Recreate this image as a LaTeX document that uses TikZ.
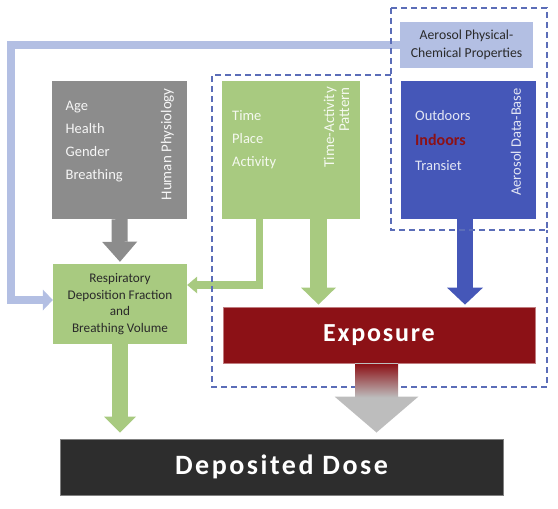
\documentclass[tikz,border=0pt]{standalone}
\usepackage{fontspec}
\setmainfont{Carlito}
\usepackage{tikz}
\usetikzlibrary{arrows.meta, calc}
\definecolor{physgray}{HTML}{8C8C8C}
\definecolor{leafgreen}{HTML}{A8CA80}
\definecolor{dbblue}{HTML}{4557B8}
\definecolor{propblue}{HTML}{B3BFE3}
\definecolor{expored}{HTML}{8C1116}
\definecolor{dosegray}{HTML}{2D2D2D}
\definecolor{dashblue}{HTML}{5B6DB8}
\definecolor{headgray}{HTML}{BDBDBD}
\definecolor{darktext}{HTML}{2A2A2A}
\tikzstyle{box} = [rectangle, inner sep=0pt, align=center]
\tikzstyle{listtext} = [anchor=west, align=left, inner sep=0pt, font=\fontsize{14.5}{23}\selectfont]
\tikzstyle{sidetitle} = [rotate=90, anchor=east, align=right, inner sep=0pt, font=\fontsize{15}{15}\selectfont]
\tikzstyle{zone} = [draw=dashblue, line width=1.2pt, dash pattern=on 6pt off 4pt]
\tikzstyle{fat} = [line join=miter]

\begin{document}
\begin{tikzpicture}[x=1pt, y=-1pt]
      \useasboundingbox (0,0) rectangle (558,509);

      % Boxes
      \node[box, fill=physgray, minimum width=135pt, minimum height=138pt] (phys) at (119.5,150) {};
      \node[box, fill=leafgreen, minimum width=138pt, minimum height=138pt] (tap) at (291,150) {};
      \node[box, fill=dbblue, minimum width=135pt, minimum height=138pt] (adb) at (468.5,150) {};
      \node[box, fill=propblue, minimum width=133pt, minimum height=46pt, text=darktext,
            font=\fontsize{13.7}{18}\selectfont] (aps) at (466.5,45) {Aerosol Physical-\\Chemical Properties};
      \node[box, fill=leafgreen, minimum width=134pt, minimum height=80pt, text=darktext,
            font=\fontsize{13.2}{16.7}\selectfont] (resp) at (120,304) {Respiratory\\Deposition Fraction\\and\\Breathing Volume};
      \node[box, fill=expored, draw=expored!55!white, line width=0.8pt, minimum width=312pt, minimum height=56pt,
            text=white, font=\fontsize{26}{30}\selectfont\bfseries\addfontfeature{LetterSpace=7}] (expo) at (379,335) {Exposure};
      \node[box, fill=dosegray, draw=gray, line width=1pt, minimum width=443pt, minimum height=56pt,
            text=white, font=\fontsize{28}{32}\selectfont\bfseries\addfontfeature{LetterSpace=9}] (dose) at (281.5,467) {Deposited Dose};

      % Box contents
      \node[listtext, text=white!92!physgray] (physlist) at (65.5,142) {Age\\Health\\Gender\\Breathing};
      \node[sidetitle, text=white!92!physgray] (physname) at (167.5,88) {Human Physiology};
      \node[listtext, text=white!88!leafgreen] (taplist) at (232,139.5) {Time\\Place\\Activity};
      \node[sidetitle, text=white!88!leafgreen] (tapname) at (336.5,87) {Time-Activity\\Pattern};
      \node[listtext, text=white!85!dbblue, font=\fontsize{14.5}{25}\selectfont] (adblist) at (415,141)
            {Outdoors\\{\bfseries\color{expored}\fontsize{16}{25}\selectfont Indoors}\\Transiet};
      \node[sidetitle, text=white!85!dbblue, font=\fontsize{14.5}{15}\selectfont] (adbname) at (516,88) {Aerosol Data-Base};

      % Arrows
      \coordinate (tapout) at ([xshift=27.5pt]tap.south);
      \coordinate (tapleft) at ([xshift=-31.5pt]tap.south);
      \coordinate (adbout) at ([xshift=-3.5pt]adb.south);
      \coordinate (expoout) at ([xshift=-2.5pt]expo.south);
      \coordinate (loop) at (11,45);

      \draw[fat, physgray, line width=16pt, -{Triangle[width=35pt,length=20pt,line width'=0pt]}, shorten >=2pt]
            (phys.south) -- (resp.north);
      \draw[fat, leafgreen, line width=16pt, -{Triangle[width=32pt,length=16pt,line width'=0pt]}, shorten >=6pt]
            (resp.south) -- (resp.south |- dose.north);
      \draw[fat, leafgreen, line width=17pt, -{Triangle[width=35pt,length=17pt,line width'=0pt]}, shorten >=2pt]
            (tapout) -- (tapout |- expo.north);
      \draw[fat, dbblue, line width=16pt, -{Triangle[width=36pt,length=17pt,line width'=0pt]}, shorten >=2pt]
            (adbout) -- (adbout |- expo.north);
      \draw[fat, leafgreen, line width=7.5pt, -{Triangle[width=17pt,length=10pt,line width'=0pt]}]
            (tapleft) |- ([yshift=19pt]resp.east);
      \draw[fat, propblue, line width=7.5pt, -{Triangle[width=21pt,length=10pt,line width'=0pt]}]
            (aps.west) -- (loop) |- ([yshift=4pt]resp.west);

      % Dashed groups
      \draw[zone] (391,8) rectangle (547,230);
      \draw[zone] (391,75) -- (212,75) -- (212,387) -- (547,387) -- (547,230);

      % Exposure to dose
      \draw[fat, headgray, line width=43pt, -{Triangle[width=84pt,length=36pt,line width'=0pt]}, shorten >=6pt]
            (expoout) -- (expoout |- dose.north);
      \shade[top color=expored, bottom color=headgray] ([xshift=-21.5pt,yshift=-0.6pt]expoout) rectangle ([xshift=21.5pt,yshift=-34pt]expoout);
\end{tikzpicture}
\end{document}
